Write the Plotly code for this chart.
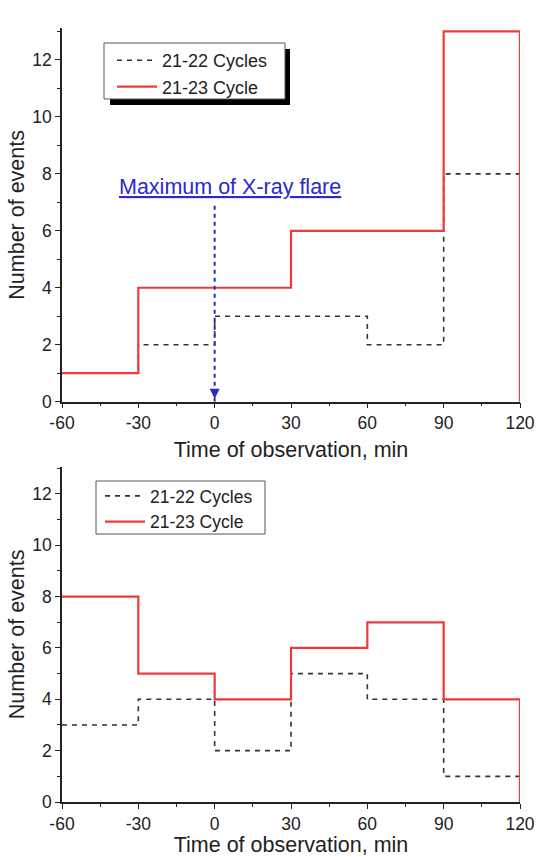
import plotly.graph_objects as go

# ---- data ----
edges = [-60, -30, 0, 30, 60, 90, 120]
top_2122 = [1, 2, 3, 3, 2, 8]
top_2123 = [1, 4, 4, 6, 6, 13]
bot_2122 = [3, 4, 2, 5, 4, 1]
bot_2123 = [8, 5, 4, 6, 7, 4]
x_ticks = [-60, -30, 0, 30, 60, 90, 120]
x_tick_labels = ["-60", "-30", "0", "30", "60", "90", "120"]
y_ticks = [0, 2, 4, 6, 8, 10, 12]
y_tick_labels = ["0", "2", "4", "6", "8", "10", "12"]
flare_time = 0
flare_top = 6.94
label_2122 = "21-22 Cycles"
label_2123 = "21-23 Cycle"

FONT = "Liberation Sans, Arial, sans-serif"
RED = "#ee3a3a"
DASH = "#333333"
BLUE = "#2a2acc"
W, H = 537, 857
ML, MR, MT, MB = 62, 17, 28, 55
PW, PH = W - ML - MR, H - MT - MB


def px_x(px):
    return (px - ML) / PW


def px_y(py):
    return (H - MB - py) / PH


def step_xy(counts):
    return edges + [edges[-1]], counts + [counts[-1], 0]


fig = go.Figure()
for counts, name, color, dash, width, ax in [
    (top_2122, label_2122, DASH, "5px,5px", 1.6, ""),
    (top_2123, label_2123, RED, "solid", 2.2, ""),
    (bot_2122, label_2122, DASH, "5px,5px", 1.6, "2"),
    (bot_2123, label_2123, RED, "solid", 2.2, "2"),
]:
    xs, ys = step_xy(counts)
    fig.add_trace(go.Scatter(
        x=xs, y=ys, mode="lines", name=name, line_shape="hv",
        line=dict(color=color, dash=dash, width=width),
        xaxis="x" + ax, yaxis="y" + ax, showlegend=True,
        legend="legend" if ax == "" else "legend2",
    ))

axis_common = dict(
    showline=True, linecolor="#222", linewidth=1.5, mirror=False, automargin=False,
    showgrid=False, zeroline=False, ticks="outside", ticklen=5, tickwidth=1.3,
    tickcolor="#222", tickfont=dict(family=FONT, size=17.5, color="#222"),
)
xcommon = dict(axis_common, range=[-60, 120], tickvals=x_ticks, ticktext=x_tick_labels,
               minor=dict(dtick=15, ticks="outside", ticklen=3, tickcolor="#222"))
ycommon = dict(axis_common, tickvals=y_ticks, ticktext=y_tick_labels,
               minor=dict(dtick=1, ticks="outside", ticklen=3, tickcolor="#222"),
               title=dict(text="Number of events",
                          font=dict(family=FONT, size=21.5, color="#222"), standoff=2))
xtitle_font = dict(family=FONT, size=21.5, color="#222")

legend_common = dict(xanchor="left", yanchor="top", bgcolor="rgba(0,0,0,0)",
                     borderwidth=0, tracegroupgap=0, itemwidth=40)

fig.update_layout(
    width=W, height=H,
    margin=dict(l=ML, r=MR, t=MT, b=MB, autoexpand=False),
    paper_bgcolor="white", plot_bgcolor="white",
    xaxis=dict(xcommon, domain=[0, 1], anchor="y",
               title=dict(text="Time of observation, min", font=xtitle_font, standoff=9)),
    yaxis=dict(ycommon, range=[0, 13.12], domain=[px_y(401.7), 1], anchor="x"),
    xaxis2=dict(xcommon, domain=[0, 1], anchor="y2",
                title=dict(text="Time of observation, min", font=xtitle_font, standoff=4)),
    yaxis2=dict(ycommon, range=[0, 13.06], domain=[0, px_y(466.7)], anchor="x2"),
    legend=dict(legend_common, x=px_x(112), y=px_y(42),
                font=dict(family=FONT, size=18, color="#222")),
    legend2=dict(legend_common, x=px_x(100), y=px_y(478),
                 font=dict(family=FONT, size=17.5, color="#222")),
    shapes=[
        dict(type="line", xref="x", yref="y", x0=flare_time, x1=flare_time,
             y0=0, y1=flare_top, line=dict(color=BLUE, width=2, dash="4px,4px")),
        # top legend shadow + box
        dict(type="rect", xref="paper", yref="paper",
             x0=px_x(110), x1=px_x(290), y0=px_y(105), y1=px_y(49),
             fillcolor="black", line=dict(width=0), layer="above"),
        dict(type="rect", xref="paper", yref="paper",
             x0=px_x(104), x1=px_x(285), y0=px_y(99), y1=px_y(43),
             fillcolor="white", line=dict(color="#555", width=1), layer="above"),
        # bottom legend box
        dict(type="rect", xref="paper", yref="paper",
             x0=px_x(96), x1=px_x(265), y0=px_y(534), y1=px_y(481),
             fillcolor="white", line=dict(color="#555", width=1), layer="above"),
    ],
    annotations=[
        dict(x=5.9, y=7.54, xref="x", yref="y", text="<u>Maximum of X-ray flare</u>",
             showarrow=False, font=dict(family=FONT, size=21.5, color=BLUE)),
        dict(x=flare_time, y=0.1, xref="x", yref="y", ax=0, ay=-8, text="",
             showarrow=True, arrowhead=2, arrowsize=1, arrowwidth=2, arrowcolor=BLUE),
    ],
)

fig.write_html("out.html", config={"displayModeBar": False},
               post_script="document.body.style.margin='0px';")
